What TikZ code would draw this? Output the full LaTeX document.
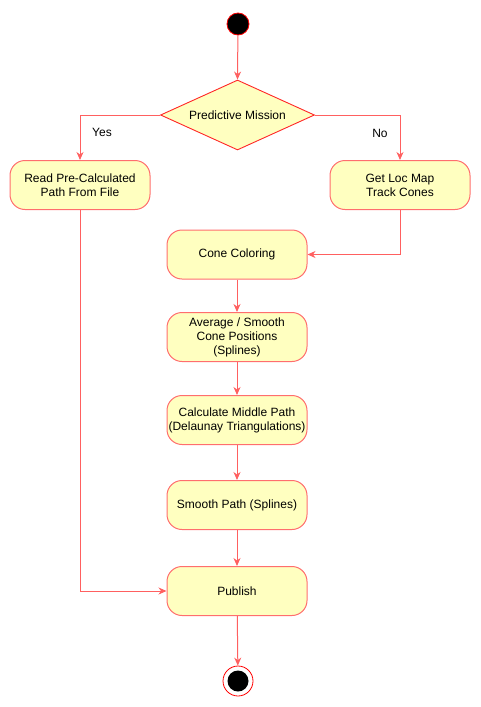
\documentclass[tikz,border=0pt]{standalone}
\usepackage{fontspec}
\setmainfont{Liberation Sans}
\usetikzlibrary{shapes.geometric,arrows.meta}
\definecolor{edgecol}{RGB}{255,96,96}
\definecolor{boxline}{RGB}{255,110,110}
\definecolor{boxfill}{RGB}{255,255,192}
\tikzset{
  actbox/.style={draw=boxline, fill=boxfill, line width=1pt, rounded corners=15pt,
    minimum width=140pt, minimum height=49pt, inner sep=0pt, align=center,
    font=\fontsize{12}{14}\selectfont},
  decbox/.style={draw=red!85, fill=boxfill, line width=0.9pt, diamond, shape aspect=2.2,
    minimum width=154pt, minimum height=70pt, inner sep=0pt,
    font=\fontsize{12}{14}\selectfont},
  flow/.style={draw=edgecol, line width=1pt, -{Stealth[length=8pt,width=7pt,inset=2.5pt]}},
  lbl/.style={font=\fontsize{12}{14}\selectfont, inner sep=0pt}
}
\begin{document}
\begin{tikzpicture}[x=1pt,y=-1pt]
\useasboundingbox (0,0) rectangle (481,707);
\node[circle, draw=red, fill=black, line width=0.8pt, minimum size=22pt, inner sep=0pt] (start) at (238,24) {};
\node[decbox] (dec) at (237.5,115) {Predictive Mission};
\node[actbox] (read) at (80,185) {Read Pre-Calculated\\Path From File};
\node[actbox] (loc) at (400,185) {Get Loc Map\\Track Cones};
\node[actbox] (color) at (237,254.5) {Cone Coloring};
\node[actbox] (avg) at (237,337) {Average / Smooth\\Cone Positions\\(Splines)};
\node[actbox] (calc) at (237,420) {Calculate Middle Path\\(Delaunay Triangulations)};
\node[actbox] (smooth) at (237,505) {Smooth Path (Splines)};
\node[actbox] (pub) at (237,591) {Publish};
\node[circle, draw=red, fill=white, line width=0.8pt, minimum size=30pt, inner sep=0pt] (end) at (238,681) {};
\node[circle, fill=black, minimum size=21pt, inner sep=0pt] (endin) at (end.center) {};
\node[lbl] (yes) at (102,132) {Yes};
\node[lbl] (no) at (380,133) {No};

\draw[flow] (start) -- (dec.north);
\draw[flow] (dec.west) -| (read.north);
\draw[flow] (dec.east) -| (loc.north);
\draw[flow] (loc.south) |- (color.east);
\draw[flow] (color) -- (avg);
\draw[flow] (avg) -- (calc);
\draw[flow] (calc) -- (smooth);
\draw[flow] (smooth) -- (pub);
\draw[flow] (read.south) |- (pub.west);
\draw[flow] (pub) -- (end);
\end{tikzpicture}
\end{document}
